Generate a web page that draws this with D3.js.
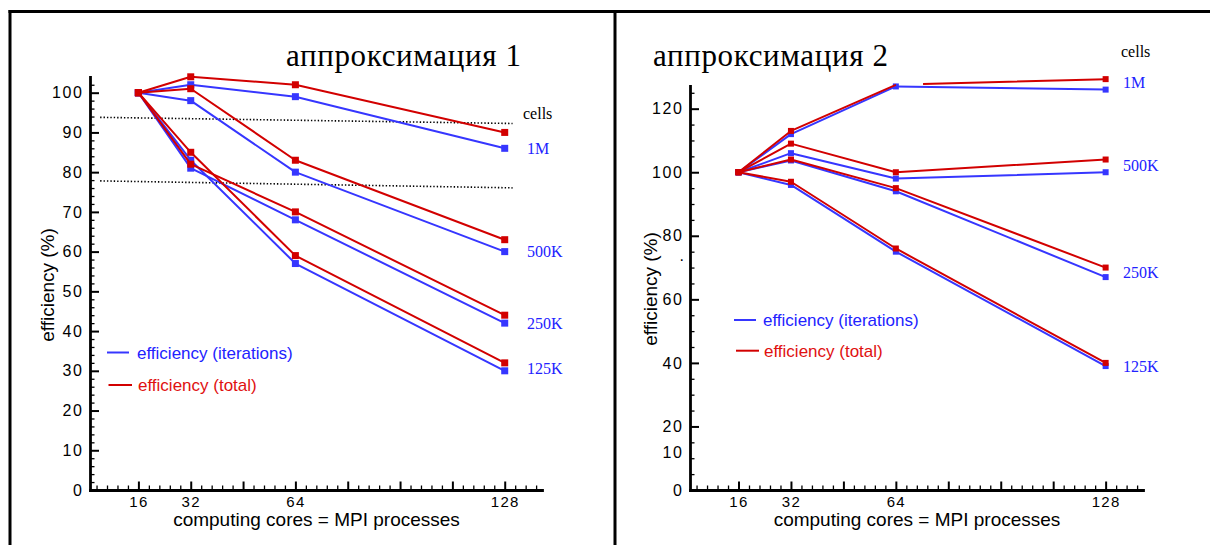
<!DOCTYPE html>
<html><head><meta charset="utf-8">
<script src="https://cdn.jsdelivr.net/npm/d3@7"></script>
<style>
html,body{margin:0;padding:0;background:#fff;}
svg{display:block;}
</style></head><body>
<svg id="c" width="1210" height="545"></svg>
<script>
// ---------------- data ----------------
const cores = [16, 32, 64, 128];
const cellSizes = ["1M", "500K", "250K", "125K"];
const cellsTitle = "cells";

// аппроксимация 1
const a1Iter1M   = [100, 102, 99, 86];
const a1Iter500K = [100, 98, 80, 60];
const a1Iter250K = [100, 81, 68, 42];
const a1Iter125K = [100, 83, 57, 30];
const a1Total1M   = [100, 104, 102, 90];
const a1Total500K = [100, 101, 83, 63];
const a1Total250K = [100, 82, 70, 44];
const a1Total125K = [100, 85, 59, 32];

// аппроксимация 2
const a2Iter1M   = [100, 112, 127, 126];
const a2Iter500K = [100, 106, 98, 100];
const a2Iter250K = [100, 103.7, 94, 67];
const a2Iter125K = [100, 96, 75, 39];
const a2Total1M   = [100, 113, 127.5, 129.3];
const a2Total500K = [100, 109, 100, 104];
const a2Total250K = [100, 104, 95, 70];
const a2Total125K = [100, 97, 76, 40];

// dotted reference lines in chart 1: [x0, y0, x1, y1] in data units
const a1RefLines = [[4.3, 93.8, 130.4, 92.25], [4.3, 77.8, 130.4, 76.05]];

// ticks
const xMajorTicks = [16, 32, 48, 64, 80, 96, 112, 128];
const xTickLabels = [16, 32, 64, 128];
const a1YTickLabels = [0, 10, 20, 30, 40, 50, 60, 70, 80, 90, 100];
const a2YTickLabels = [0, 10, 20, 40, 60, 80, 100, 120];

const titles = ["аппроксимация 1", "аппроксимация 2"];
const legendLabels = ["efficiency (iterations)", "efficiency (total)"];
const xAxisTitle = "computing cores = MPI processes";
const yAxisTitle = "efficiency (%)";

// ---------------- style / layout ----------------
const BLUE = "#3636ff", RED = "#d20000", BLUE_TXT = "#2222ff", RED_TXT = "#e01010";
const SANS = "'Liberation Sans', Arial, sans-serif";
const SERIF = "'Liberation Serif', 'Times New Roman', serif";
const X_DOMAIN = [1.2, 139.4];
const X_MINOR_STEP = 3.2;

const panels = [
  {
    title: titles[0], titleX: 286, titleW: 235, titleY: 66,
    x0: 90, x1: 542, yB: 490, yT: 76.8, yDomain: [0, 104],
    yLabels: a1YTickLabels, yMajorEvery: 10, yMinorStep: 2,
    iter: [a1Iter1M, a1Iter500K, a1Iter250K, a1Iter125K],
    total: [a1Total1M, a1Total500K, a1Total250K, a1Total125K],
    marker: 7,
    labelX: 527, labelVals: [86, 60, 42, 30.5], cellsVal: 94.6, cellsX: 523,
    legend: [{x1: 107, x2: 129, y: 352.5, tx: 137}, {x1: 108.5, x2: 132, y: 385, tx: 138}],
    yTitle: {x: 47, y: 285}, xTitleX: 316.5,
    refLines: a1RefLines,
    raised: [], gap: null, hidden: [], dot: null
  },
  {
    title: titles[1], titleX: 653, titleW: 235, titleY: 66,
    x0: 690, x1: 1143, yB: 490, yT: 85.8, yDomain: [0, 127.2],
    yLabels: a2YTickLabels, yMajorEvery: 20, yMinorStep: 5,
    iter: [a2Iter1M, a2Iter500K, a2Iter250K, a2Iter125K],
    total: [a2Total1M, a2Total500K, a2Total250K, a2Total125K],
    marker: 6,
    labelX: 1123, labelVals: [128.2, 102, 68.4, 39], cellsVal: 137.9, cellsX: 1121,
    legend: [{x1: 734, x2: 756, y: 320, tx: 763}, {x1: 736, x2: 759, y: 350.7, tx: 764}],
    yTitle: {x: 650, y: 289}, xTitleX: 917,
    refLines: [],
    raised: [10], gap: {kind: "total", s: 0, fromX: 64, toX: 72.3}, hidden: [{kind: "total", s: 0, x: 64}],
    dot: 72
  }
];

const svg = d3.select("#c");

// frame
const frame = svg.append("g").attr("stroke", "#000").attr("stroke-width", 3).attr("fill", "none");
frame.append("line").attr("x1", 8.5).attr("x2", 1210).attr("y1", 11.5).attr("y2", 11.5);
frame.append("line").attr("x1", 10).attr("x2", 10).attr("y1", 10).attr("y2", 545);
frame.append("line").attr("x1", 615).attr("x2", 615).attr("y1", 10).attr("y2", 545);

panels.forEach(p => {
  const g = svg.append("g");
  const x = d3.scaleLinear().domain(X_DOMAIN).range([p.x0, p.x1]);
  const y = d3.scaleLinear().domain(p.yDomain).range([p.yB, p.yT]);

  // title
  g.append("text").attr("x", p.titleX).attr("y", p.titleY)
    .attr("font-family", SERIF).attr("font-size", 31)
    .attr("textLength", p.titleW).attr("lengthAdjust", "spacing")
    .text(p.title);

  // dotted reference lines
  p.refLines.forEach(r => {
    g.append("line").attr("x1", x(r[0])).attr("y1", y(r[1])).attr("x2", x(r[2])).attr("y2", y(r[3]))
      .attr("stroke", "#000").attr("stroke-width", 1.6).attr("stroke-dasharray", "1.4,2");
  });

  // x minor ticks
  const xMinor = d3.range(X_MINOR_STEP, X_DOMAIN[1], X_MINOR_STEP)
    .filter(v => Math.abs(v / 16 - Math.round(v / 16)) > 1e-6);
  g.append("g").attr("transform", `translate(0,${p.yB})`)
    .call(d3.axisBottom(x).tickValues(xMinor).tickSizeInner(-4.5).tickSizeOuter(0).tickFormat(""))
    .call(a => { a.select(".domain").remove(); a.selectAll("line").attr("stroke-width", 1.3); });
  // x major ticks + labels
  g.append("g").attr("transform", `translate(0,${p.yB})`)
    .call(d3.axisBottom(x).tickValues(xMajorTicks).tickSizeInner(-8.5).tickSizeOuter(0).tickPadding(6)
      .tickFormat(d => xTickLabels.includes(d) ? d : ""))
    .call(a => {
      a.select(".domain").attr("stroke-width", 2.8).attr("stroke-linecap", "square");
      a.selectAll("line").attr("stroke-width", 2);
      a.selectAll("text").attr("font-family", SANS).attr("font-size", 15).attr("fill", "#000").attr("letter-spacing", 1.3);
    });

  // y minor ticks
  const yMinor = d3.range(0, p.yDomain[1], p.yMinorStep).filter(v => v % p.yMajorEvery !== 0 || !p.yLabels.includes(v) || p.raised.includes(v));
  g.append("g").attr("transform", `translate(${p.x0},0)`)
    .call(d3.axisLeft(y).tickValues(yMinor).tickSizeInner(-4.5).tickSizeOuter(0).tickFormat(""))
    .call(a => { a.select(".domain").remove(); a.selectAll("line").attr("stroke-width", 1.3); });
  // y major ticks + labels
  g.append("g").attr("transform", `translate(${p.x0},0)`)
    .call(d3.axisLeft(y).tickValues(p.yLabels).tickSizeInner(-9).tickSizeOuter(0).tickPadding(6.5))
    .call(a => {
      a.select(".domain").attr("stroke-width", 2.8).attr("stroke-linecap", "square");
      a.selectAll("line").attr("stroke-width", 2);
      a.selectAll(".tick").filter(d => p.raised.includes(d)).select("line").attr("x2", 0);
      a.selectAll(".tick").filter(d => p.raised.includes(d)).select("text").attr("dy", "-0.02em");
      a.selectAll("text").attr("font-family", SANS).attr("font-size", 16).attr("fill", "#000").attr("letter-spacing", 1.6);
    });
  if (p.dot !== null) {
    g.append("text").attr("x", p.x0 - 6).attr("y", y(p.dot)).attr("text-anchor", "end")
      .attr("font-family", SANS).attr("font-size", 16).text(".");
  }

  // axis titles
  g.append("text").attr("x", p.xTitleX).attr("y", 525.5).attr("text-anchor", "middle")
    .attr("font-family", SANS).attr("font-size", 19).text(xAxisTitle);
  g.append("text").attr("transform", `translate(${p.yTitle.x},${p.yTitle.y}) rotate(-90)`)
    .attr("text-anchor", "middle").attr("dy", "0.36em")
    .attr("font-family", SANS).attr("font-size", 19).text(yAxisTitle);

  // series
  const kinds = [{key: "iter", color: BLUE}, {key: "total", color: RED}];
  kinds.forEach(k => {
    p[k.key].forEach((vals, s) => {
      const pts = vals.map((v, i) => [x(cores[i]), y(v)]);
      const path = g.append("path").attr("d", d3.line()(pts)).attr("fill", "none")
        .attr("stroke", k.color).attr("stroke-width", 2).attr("stroke-linejoin", "round");
      if (p.gap && p.gap.kind === k.key && p.gap.s === s) {
        const gi = cores.indexOf(p.gap.fromX);
        let before = 0;
        for (let i = 0; i < gi; i++) before += Math.hypot(pts[i + 1][0] - pts[i][0], pts[i + 1][1] - pts[i][1]);
        const segLen = Math.hypot(pts[gi + 1][0] - pts[gi][0], pts[gi + 1][1] - pts[gi][1]);
        const gapLen = segLen * (p.gap.toX - p.gap.fromX) / (cores[gi + 1] - cores[gi]);
        path.attr("stroke-dasharray", `${before},${gapLen},5000`);
      }
      const m = p.marker;
      g.selectAll(null).data(vals.map((v, i) => ({v, i})).filter(d =>
          !p.hidden.some(h => h.kind === k.key && h.s === s && h.x === cores[d.i])))
        .enter().append("rect")
        .attr("x", d => x(cores[d.i]) - m / 2).attr("y", d => y(d.v) - m / 2)
        .attr("width", m).attr("height", m).attr("fill", k.color);
    });
  });

  // series labels
  g.append("text").attr("x", p.cellsX).attr("y", y(p.cellsVal)).attr("dy", "0.32em")
    .attr("font-family", SERIF).attr("font-size", 16).attr("fill", "#000").text(cellsTitle);
  cellSizes.forEach((c, i) => {
    g.append("text").attr("x", p.labelX).attr("y", y(p.labelVals[i])).attr("dy", "0.34em")
      .attr("font-family", SERIF).attr("font-size", 16).attr("fill", BLUE_TXT).text(c);
  });

  // legend
  [[BLUE, BLUE_TXT], [RED, RED_TXT]].forEach((c, i) => {
    const L = p.legend[i];
    g.append("line").attr("x1", L.x1).attr("x2", L.x2).attr("y1", L.y).attr("y2", L.y)
      .attr("stroke", c[0]).attr("stroke-width", 2);
    g.append("text").attr("x", L.tx).attr("y", L.y).attr("dy", "0.36em")
      .attr("font-family", SANS).attr("font-size", 17).attr("fill", c[1]).text(legendLabels[i]);
  });
});
</script>
</body></html>
